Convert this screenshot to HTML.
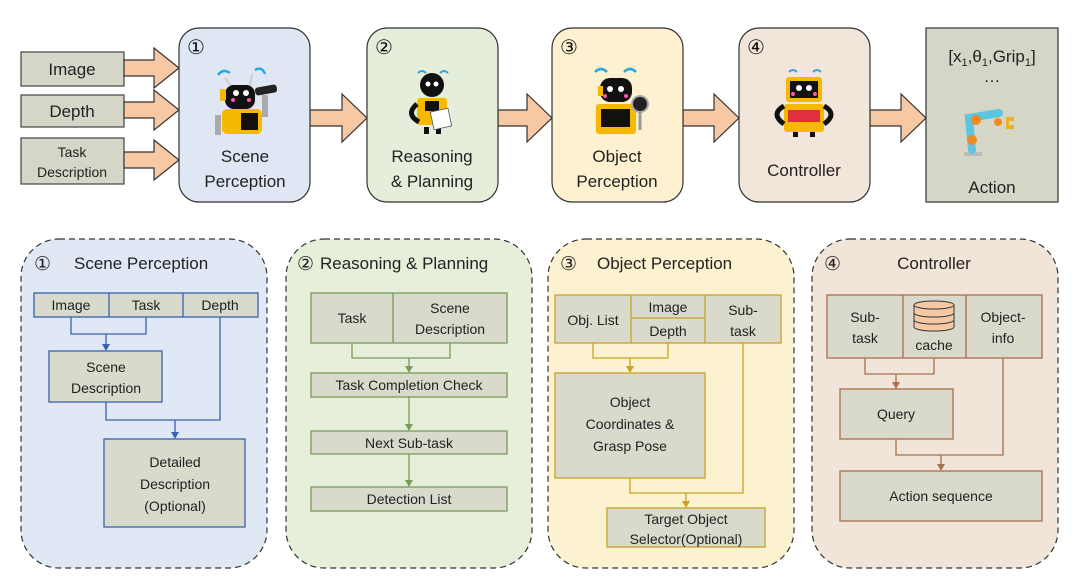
<!DOCTYPE html>
<html><head><meta charset="utf-8"><style>
html,body{margin:0;padding:0;background:#fff}
svg{display:block;font-family:"Liberation Sans",sans-serif}
</style></head><body>
<svg width="1080" height="583" viewBox="0 0 1080 583" xmlns="http://www.w3.org/2000/svg">
<!-- inputs -->
<g fill="#d6d6c8" stroke="#444" stroke-width="1.2">
<rect x="21" y="52" width="103" height="34"/>
<rect x="21" y="95" width="103" height="32"/>
<rect x="21" y="138" width="103" height="46"/>
</g>
<g font-size="17" fill="#222" text-anchor="middle">
<text x="72" y="75">Image</text>
<text x="72" y="117">Depth</text>
<text x="72" y="157" font-size="14">Task</text>
<text x="72" y="177" font-size="14">Description</text>
</g>
<!-- big arrows -->
<g fill="#f6c8a4" stroke="#333" stroke-width="1.2">
<path d="M124,60 h30 v-12 l25,20 l-25,20 v-12 h-30z"/>
<path d="M124,102 h30 v-12 l25,20 l-25,20 v-12 h-30z"/>
<path d="M124,152 h30 v-12 l25,20 l-25,20 v-12 h-30z"/>
<path d="M310,110 h32 v-16 l25,24 l-25,24 v-16 h-32z"/>
<path d="M498,110 h29 v-16 l25,24 l-25,24 v-16 h-29z"/>
<path d="M683,110 h31 v-16 l25,24 l-25,24 v-16 h-31z"/>
<path d="M870,110 h31 v-16 l25,24 l-25,24 v-16 h-31z"/>
</g>
<!-- top stage boxes -->
<g stroke="#333" stroke-width="1.2">
<rect x="179" y="28" width="131" height="174" rx="20" fill="#dee7f3"/>
<rect x="367" y="28" width="131" height="174" rx="20" fill="#e4eedb"/>
<rect x="552" y="28" width="131" height="174" rx="20" fill="#fdf1cf"/>
<rect x="739" y="28" width="131" height="174" rx="20" fill="#f2e5da"/>
<rect x="926" y="28" width="132" height="174" fill="#d6d6c8"/>
</g>
<g font-size="20" fill="#111">
<text x="187" y="54">①</text><text x="375" y="54">②</text><text x="560" y="54">③</text><text x="747" y="54">④</text>
</g>
<g font-size="17" fill="#222" text-anchor="middle">
<text x="245" y="162">Scene</text><text x="245" y="187">Perception</text>
<text x="432" y="162">Reasoning</text><text x="432" y="187">&amp; Planning</text>
<text x="617" y="162">Object</text><text x="617" y="187">Perception</text>
<text x="804" y="176">Controller</text>
<text x="992" y="62">[x<tspan font-size="11" dy="4">1</tspan><tspan dy="-4">,θ</tspan><tspan font-size="11" dy="4">1</tspan><tspan dy="-4">,Grip</tspan><tspan font-size="11" dy="4">1</tspan><tspan dy="-4">]</tspan></text>
<text x="992" y="82">…</text>
<text x="992" y="193">Action</text>
</g>
<!-- robots -->
<g>
<!-- robot 1 -->
<path d="M218,75 q5,-7 12,-2 M255,70 q7,-4 10,4" stroke="#2aa8e0" stroke-width="2.5" fill="none"/>
<line x1="225" y1="78" x2="233" y2="88" stroke="#ccc" stroke-width="2"/><line x1="252" y1="74" x2="250" y2="86" stroke="#ccc" stroke-width="2"/>
<rect x="225" y="85" width="30" height="24" rx="9" fill="#111"/>
<circle cx="236" cy="93" r="3" fill="#fff"/><circle cx="246" cy="93" r="3" fill="#fff"/>
<circle cx="233" cy="100" r="2" fill="#f5a"/><circle cx="249" cy="100" r="2" fill="#f5a"/>
<rect x="220" y="89" width="6" height="12" rx="2" fill="#f6b800"/>
<rect x="222" y="109" width="40" height="25" rx="5" fill="#f6b800"/><rect x="241" y="113" width="17" height="17" fill="#111"/>
<path d="M218,115 v20" stroke="#aaa" stroke-width="6"/><path d="M265,95 v22" stroke="#aaa" stroke-width="6"/>
<rect x="255" y="86" width="22" height="8" rx="3" fill="#222" transform="rotate(-10 266 90)"/>
<!-- robot 2 -->
<path d="M418,73 q4,-4 8,0 M440,73 q4,-4 8,0" stroke="#2aa8e0" stroke-width="2" fill="none"/>
<circle cx="432" cy="85" r="12" fill="#111"/><circle cx="428" cy="84" r="2.5" fill="#fff"/><circle cx="436" cy="84" r="2.5" fill="#fff"/>
<rect x="417" y="98" width="30" height="27" rx="3" fill="#f6b800"/><rect x="425" y="101" width="14" height="10" fill="#111"/>
<path d="M417,104 q-12,10 2,18" stroke="#111" stroke-width="5" fill="none"/>
<rect x="424" y="127" width="5" height="7" fill="#111"/><rect x="436" y="127" width="5" height="7" fill="#111"/>
<rect x="432" y="110" width="18" height="18" fill="#fff" stroke="#555" stroke-width="0.8" transform="rotate(-12 441 119)"/>
<!-- robot 3 -->
<path d="M595,72 q6,-6 12,0 M624,72 q6,-6 12,0" stroke="#2aa8e0" stroke-width="2.5" fill="none"/>
<rect x="600" y="78" width="32" height="24" rx="10" fill="#111"/><rect x="598" y="86" width="5" height="10" fill="#f6b800"/>
<circle cx="610" cy="89" r="3" fill="#fff"/><circle cx="621" cy="89" r="3" fill="#fff"/>
<circle cx="605" cy="96" r="2" fill="#f5a"/><circle cx="626" cy="96" r="2" fill="#f5a"/>
<rect x="596" y="104" width="40" height="30" rx="3" fill="#f6b800"/><rect x="601" y="109" width="29" height="18" fill="#111"/>
<circle cx="640" cy="104" r="8" fill="#222" stroke="#aaa" stroke-width="2"/>
<line x1="640" y1="112" x2="640" y2="130" stroke="#999" stroke-width="3"/>
<!-- robot 4 -->
<path d="M789,72 q4,-4 8,0 M813,72 q4,-4 8,0" stroke="#2aa8e0" stroke-width="2" fill="none"/>
<rect x="786" y="77" width="36" height="25" rx="3" fill="#f6b800"/><rect x="790" y="81" width="28" height="17" fill="#111"/>
<circle cx="799" cy="88" r="3" fill="#fff"/><circle cx="809" cy="88" r="3" fill="#fff"/>
<circle cx="793" cy="94" r="2" fill="#f5a"/><circle cx="815" cy="94" r="2" fill="#f5a"/>
<rect x="784" y="104" width="40" height="28" rx="3" fill="#f6b800"/><path d="M788,110 h32 v12 h-32z" fill="#e03040"/>
<path d="M784,106 q-14,8 0,18 M824,106 q14,8 0,18" stroke="#111" stroke-width="5" fill="none"/>
<rect x="793" y="132" width="5" height="5" fill="#111"/><rect x="810" y="132" width="5" height="5" fill="#111"/>
<!-- arm -->
<rect x="964" y="152" width="18" height="4" fill="#bbb"/>
<path d="M972,150 l-3,-32 l30,-5" stroke="#5cc6e0" stroke-width="8" fill="none" stroke-linecap="round"/>
<circle cx="976" cy="120" r="5" fill="#f08a20"/><circle cx="972" cy="140" r="5" fill="#f08a20"/><circle cx="998" cy="122" r="4" fill="#f08a20"/>
<path d="M1006,117 h8 v4 h-5 v4 h5 v4 h-8z" fill="#f0b020"/>
</g>

<!-- bottom panels -->
<g stroke="#333" stroke-width="1.2" stroke-dasharray="6,4">
<rect x="21" y="239" width="246" height="329" rx="38" fill="#dfe8f4"/>
<rect x="286" y="239" width="246" height="329" rx="38" fill="#e6efda"/>
<rect x="548" y="239" width="246" height="329" rx="38" fill="#fdf2cf"/>
<rect x="812" y="239" width="246" height="329" rx="38" fill="#f1e4d8"/>
</g>
<g font-size="17" fill="#222">
<text x="34" y="270" font-size="19">①</text><text x="74" y="269">Scene Perception</text>
<text x="297" y="270" font-size="19">②</text><text x="320" y="269">Reasoning &amp; Planning</text>
<text x="560" y="270" font-size="19">③</text><text x="597" y="269">Object Perception</text>
<text x="824" y="270" font-size="19">④</text><text x="934" y="269" text-anchor="middle">Controller</text>
</g>

<!-- panel 1 -->
<g fill="#d9d9cc" stroke="#3a62ad" stroke-width="1.3">
<rect x="34" y="293" width="224" height="24"/>
<line x1="109" y1="293" x2="109" y2="317"/><line x1="183" y1="293" x2="183" y2="317"/>
<rect x="49" y="351" width="113" height="51"/>
<rect x="104" y="439" width="141" height="88"/>
</g>
<g fill="none" stroke="#3a62ad" stroke-width="1.3">
<path d="M71,317 V334 H146 V317"/><path d="M106,334 V346"/>
<path d="M106,402 V420 H220 V317"/><path d="M175,420 V434"/>
</g>
<g fill="#3a62ad"><path d="M102,344 h8 l-4,7z"/><path d="M171,432 h8 l-4,7z"/></g>
<g font-size="14" fill="#222" text-anchor="middle">
<text x="71" y="310">Image</text><text x="146" y="310">Task</text><text x="220" y="310">Depth</text>
<text x="106" y="372">Scene</text><text x="106" y="393">Description</text>
<text x="175" y="467">Detailed</text><text x="175" y="489">Description</text><text x="175" y="511">(Optional)</text>
</g>

<!-- panel 2 -->
<g fill="#d9d9cc" stroke="#7a9a5a" stroke-width="1.3">
<rect x="311" y="293" width="196" height="50"/><line x1="393" y1="293" x2="393" y2="343"/>
<rect x="311" y="373" width="196" height="24"/>
<rect x="311" y="431" width="196" height="23"/>
<rect x="311" y="487" width="196" height="24"/>
</g>
<g fill="none" stroke="#7a9a5a" stroke-width="1.3">
<path d="M352,343 V358 H450 V343"/><path d="M409,358 V368"/><path d="M409,397 V426"/><path d="M409,454 V482"/>
</g>
<g fill="#7a9a5a"><path d="M405,366 h8 l-4,7z"/><path d="M405,424 h8 l-4,7z"/><path d="M405,480 h8 l-4,7z"/></g>
<g font-size="14" fill="#222" text-anchor="middle">
<text x="352" y="323">Task</text><text x="450" y="313">Scene</text><text x="450" y="334">Description</text>
<text x="409" y="390">Task Completion Check</text>
<text x="409" y="448">Next Sub-task</text>
<text x="409" y="504">Detection List</text>
</g>

<!-- panel 3 -->
<g fill="#d9d9cc" stroke="#c9a227" stroke-width="1.3">
<rect x="555" y="295" width="226" height="48"/>
<line x1="631" y1="295" x2="631" y2="343"/><line x1="705" y1="295" x2="705" y2="343"/><line x1="631" y1="318" x2="705" y2="318"/>
<rect x="555" y="373" width="150" height="105"/>
<rect x="607" y="508" width="158" height="39"/>
</g>
<g fill="none" stroke="#c9a227" stroke-width="1.3">
<path d="M593,343 V358 H668 V343"/><path d="M630,358 V368"/>
<path d="M630,478 V493 H743 V343"/><path d="M686,493 V503"/>
</g>
<g fill="#c9a227"><path d="M626,366 h8 l-4,7z"/><path d="M682,501 h8 l-4,7z"/></g>
<g font-size="14" fill="#222" text-anchor="middle">
<text x="593" y="325">Obj. List</text><text x="668" y="312">Image</text><text x="668" y="336">Depth</text>
<text x="743" y="315">Sub-</text><text x="743" y="336">task</text>
<text x="630" y="407">Object</text><text x="630" y="429">Coordinates &amp;</text><text x="630" y="451">Grasp Pose</text>
<text x="686" y="524">Target Object</text><text x="686" y="544">Selector(Optional)</text>
</g>

<!-- panel 4 -->
<g fill="#d9d9cc" stroke="#a8704a" stroke-width="1.3">
<rect x="827" y="295" width="215" height="63"/>
<line x1="903" y1="295" x2="903" y2="358"/><line x1="966" y1="295" x2="966" y2="358"/>
<rect x="840" y="389" width="113" height="50"/>
<rect x="840" y="471" width="202" height="50"/>
</g>
<g stroke="#333" stroke-width="1" fill="#f6c8a4">
<path d="M914,305 v22 a20,4 0 0 0 40,0 v-22"/>
<ellipse cx="934" cy="305" rx="20" ry="4"/>
<path d="M914,313 a20,4 0 0 0 40,0 M914,320 a20,4 0 0 0 40,0" fill="none"/>
</g>
<g fill="none" stroke="#a8704a" stroke-width="1.3">
<path d="M865,358 V374 H934 V358"/><path d="M896,374 V384"/>
<path d="M896,439 V455 H1003 V358"/><path d="M941,455 V466"/>
</g>
<g fill="#a8704a"><path d="M892,382 h8 l-4,7z"/><path d="M937,464 h8 l-4,7z"/></g>
<g font-size="14" fill="#222" text-anchor="middle">
<text x="865" y="322">Sub-</text><text x="865" y="343">task</text>
<text x="934" y="350">cache</text>
<text x="1003" y="322">Object-</text><text x="1003" y="343">info</text>
<text x="896" y="419">Query</text>
<text x="941" y="501">Action sequence</text>
</g>
</svg>
</body></html>
